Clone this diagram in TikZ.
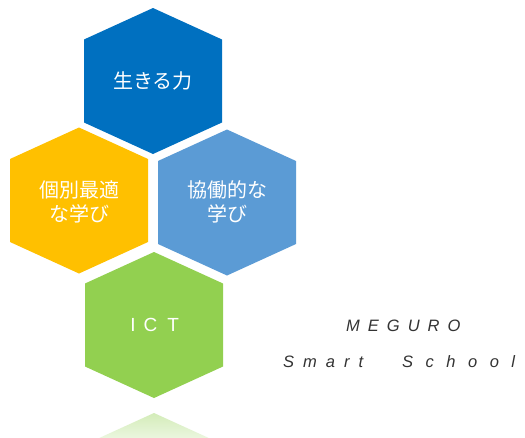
\documentclass[tikz,border=0pt]{standalone}
\usepackage{fontspec}
\setmainfont{Liberation Sans}
\newfontfamily\cjk{Noto Sans CJK JP}
\definecolor{cblue}{HTML}{0070C0}
\definecolor{corange}{HTML}{FFC000}
\definecolor{clight}{HTML}{5B9BD5}
\definecolor{cgreen}{HTML}{92D050}
\begin{document}
\begin{tikzpicture}[x=1pt,y=-1pt,
  hexa/.style={insert path={++(0,-73) -- ++(69,31.5) -- ++(0,83) -- ++(-69,31.5) -- ++(-69,-31.5) -- ++(0,-83) -- cycle}},
  hextext/.style={text=white, font=\cjk\fontsize{20}{24}\selectfont, align=center, inner sep=0pt},
  ictext/.style={text=white, font=\fontsize{19}{22}\selectfont, anchor=base, inner sep=0pt},
  sidetext/.style={text=black!80, font=\itshape\fontsize{16.5}{18}\selectfont, anchor=base west, inner sep=0pt}]
\useasboundingbox (0,0) rectangle (525,437);
\fill[white] (0,0) rectangle (525,437);
% hexagons
\fill[cblue] (153,81) [hexa];
\fill[corange] (79,200.5) [hexa];
\fill[clight] (227,202.5) [hexa];
\fill[cgreen] (154,325) [hexa];
% reflection
\begin{scope}
\clip (0,0) rectangle (525,437);
\shade[top color=cgreen!40!white, bottom color=white] (154,413) -- (223,444.5) -- (223,460) -- (85,460) -- (85,444.5) -- cycle;
\end{scope}
% texts
\node[hextext] (ikiru) at (153,81) {生きる力};
\node[hextext] (kobetsu) at (79,202) {個別最適\\な学び};
\node[hextext] (kyodo) at (227.5,202) {協働的な\\学び};
\node[ictext] (ict) at (154.7,331) {I\hspace{8pt}C\hspace{10pt}T};
\node[sidetext] (meguro) at (346,331) {M\hspace{8pt}E\hspace{8pt}G\hspace{8pt}U\hspace{8pt}R\hspace{8pt}O};
\node[sidetext] (smart) at (283,367) {S\hspace{9pt}m\hspace{9pt}a\hspace{9pt}r\hspace{9pt}t\hspace{39pt}S\hspace{12.5pt}c\hspace{12.5pt}h\hspace{12.5pt}o\hspace{12.5pt}o\hspace{12.5pt}l};
\end{tikzpicture}
\end{document}
